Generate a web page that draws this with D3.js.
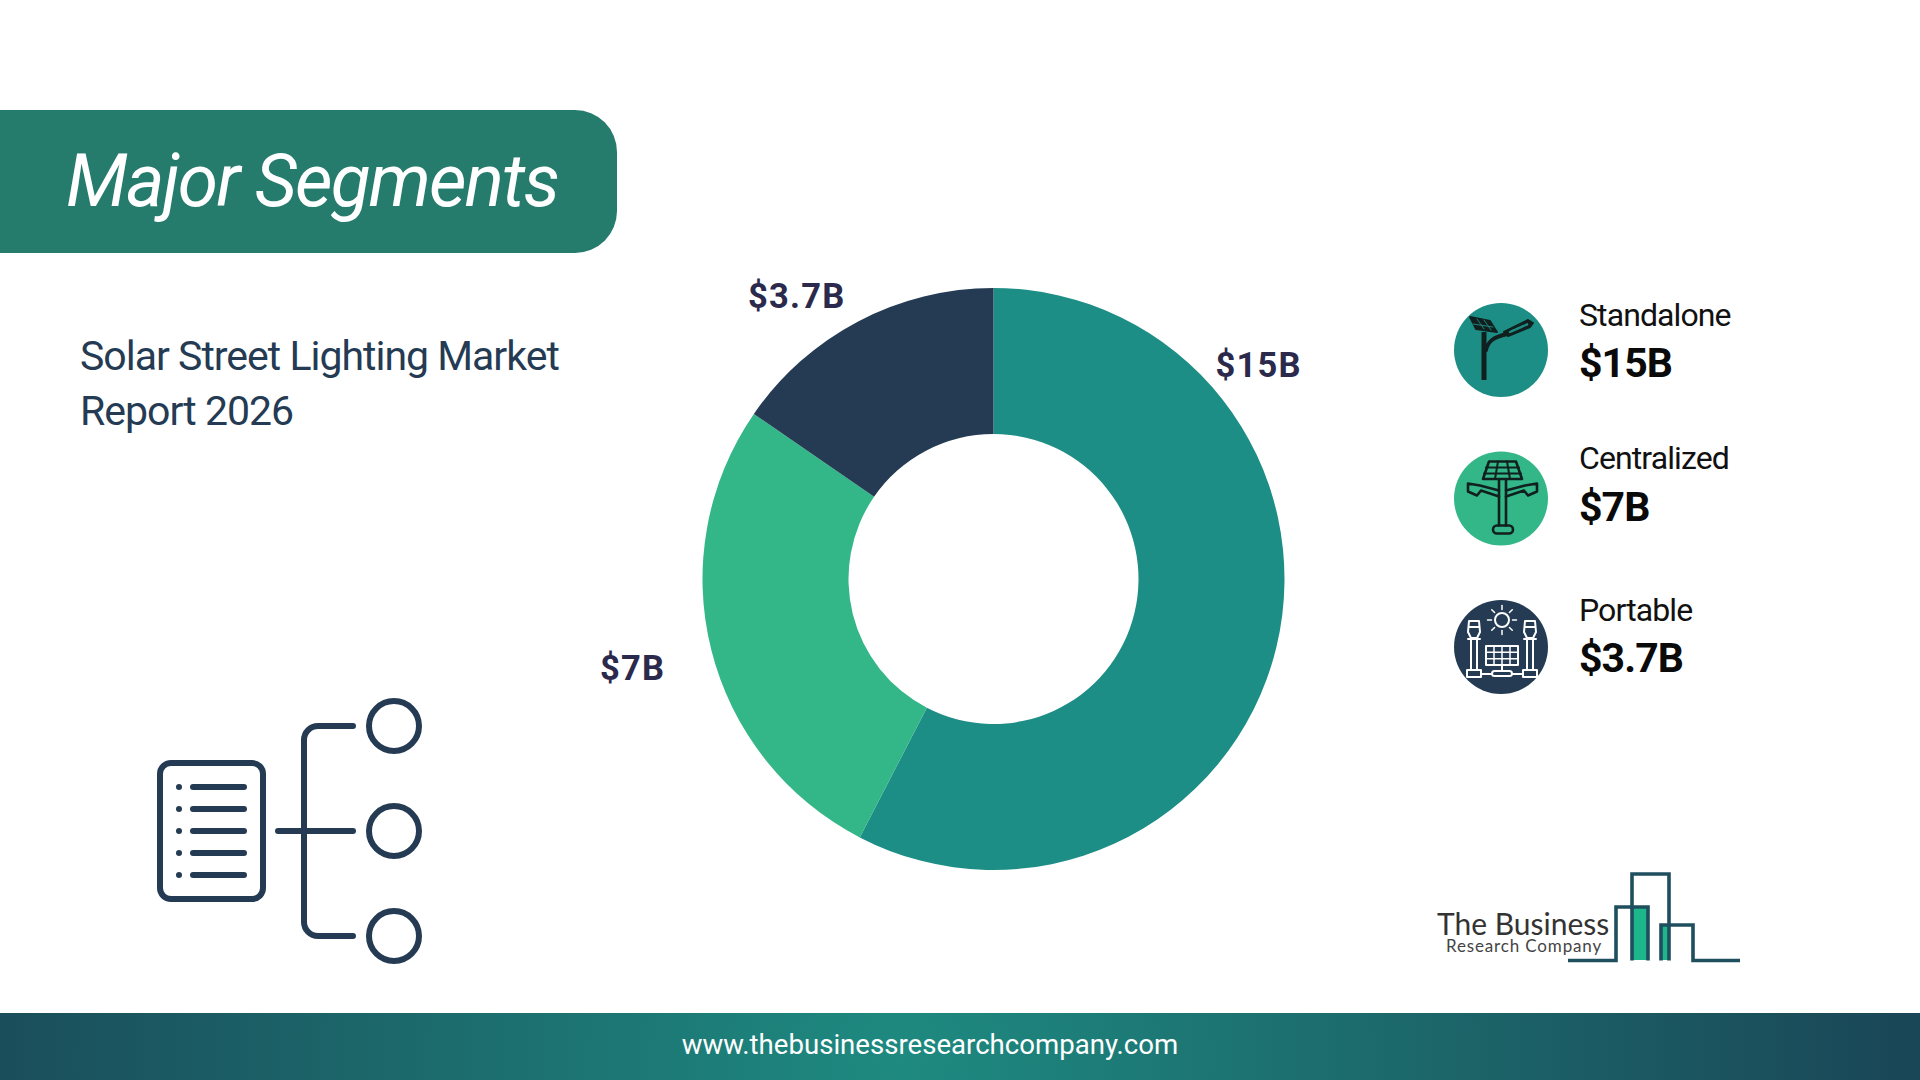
<!DOCTYPE html>
<html>
<head>
<meta charset="utf-8">
<script src="https://cdn.jsdelivr.net/npm/d3@7"></script>
<style>
html, body { margin: 0; padding: 0; background: #fff; }
svg { display: block; }
text { font-family: Roboto, sans-serif; }
</style>
</head>
<body>
<script>
var segments = ["Standalone", "Centralized", "Portable"];
var valueLabels = ["$15B", "$7B", "$3.7B"];
var sliceShares = [57.6, 27.0, 15.4];
var colors = ["#1d8e85", "#34b788", "#243b53"];

var title = "Major Segments";
var subtitleLines = ["Solar Street Lighting Market", "Report 2026"];
var siteUrl = "www.thebusinessresearchcompany.com";

var navy = "#243b53";
var cx = 993.5, cy = 579;
var outerR = 291, innerR = 145;

var svg = d3.select("body").append("svg")
    .attr("width", 1920)
    .attr("height", 1080);

var defs = svg.append("defs");
var footerGrad = defs.append("radialGradient")
    .attr("id", "footerGrad")
    .attr("gradientUnits", "userSpaceOnUse")
    .attr("cx", 900).attr("cy", 1060).attr("r", 1000);
footerGrad.append("stop").attr("offset", "0%").attr("stop-color", "#1e8a80");
footerGrad.append("stop").attr("offset", "100%").attr("stop-color", "#1a4757");

// header pill, square on the left side
svg.append("path")
    .attr("d", "M0,110H575A42,42 0 0 1 617,152V211A42,42 0 0 1 575,253H0Z")
    .attr("fill", "#257b6c");
svg.append("text")
    .attr("x", 66).attr("y", 206)
    .attr("fill", "#fff")
    .style("font-size", "73px")
    .style("font-style", "italic")
    .style("font-weight", 400)
    .style("letter-spacing", "-1.8px")
    .text(title);

svg.selectAll(".subtitle")
    .data(subtitleLines)
    .enter().append("text")
    .attr("class", "subtitle")
    .attr("x", 80)
    .attr("y", function(d, i) { return 370 + i * 55; })
    .attr("fill", navy)
    .style("font-size", "41px")
    .style("letter-spacing", "-1px")
    .text(function(d) { return d; });

// donut
var pie = d3.pie().sort(null);
var arc = d3.arc().innerRadius(innerR).outerRadius(outerR);
var ring = svg.append("g").attr("transform", "translate(" + cx + "," + cy + ")");
ring.selectAll("path")
    .data(pie(sliceShares))
    .enter().append("path")
    .attr("d", arc)
    .attr("fill", function(d, i) { return colors[i]; });

// label spots, offset from the ring centre
var labelSpots = [[222, -202], [-393.5, 101], [-245.5, -271]];
ring.selectAll(".slice-label")
    .data(valueLabels)
    .enter().append("text")
    .attr("class", "slice-label")
    .attr("x", function(d, i) { return labelSpots[i][0]; })
    .attr("y", function(d, i) { return labelSpots[i][1]; })
    .attr("fill", "#2b2a4c")
    .style("font-size", "34.5px")
    .style("font-weight", 700)
    .style("letter-spacing", "1.2px")
    .text(function(d) { return d; });

// legend column
var rowY = [350, 498.5, 647];
var nameY = [326, 469, 621];
var valueY = [377, 521, 672];
var rows = svg.selectAll(".row")
    .data(segments)
    .enter().append("g")
    .attr("class", "row");
rows.append("circle")
    .attr("cx", 1501)
    .attr("cy", function(d, i) { return rowY[i]; })
    .attr("r", 47)
    .attr("fill", function(d, i) { return colors[i]; });
rows.append("text")
    .attr("x", 1579)
    .attr("y", function(d, i) { return nameY[i]; })
    .attr("fill", "#111")
    .style("font-size", "32px")
    .style("letter-spacing", "-0.9px")
    .text(function(d) { return d; });
rows.append("text")
    .attr("x", 1579)
    .attr("y", function(d, i) { return valueY[i]; })
    .attr("fill", "#0a0a0a")
    .style("font-size", "41px")
    .style("font-weight", 700)
    .style("letter-spacing", "-0.9px")
    .text(function(d, i) { return valueLabels[i]; });

function iconAt(i) {
    return svg.append("g")
        .attr("transform", "translate(1501," + rowY[i] + ")")
        .attr("fill", "none")
        .attr("stroke-linejoin", "round")
        .attr("stroke-linecap", "round");
}

// standalone lamp
var ic1 = iconAt(0).attr("stroke", "#10201f");
ic1.append("path").attr("d", "M-17,30V-18").attr("stroke-width", 5).attr("stroke-linecap", "butt");
ic1.append("path").attr("d", "M-15,0C-13,-9 -7,-13 6,-16").attr("stroke-width", 4);
ic1.append("path").attr("d", "M-31,-33L-11,-29L-4,-18L-25,-21Z").attr("fill", "#10201f").attr("stroke-width", 1.8);
ic1.append("path").attr("d", "M-24,-31L-17,-21M-17,-30L-10,-20M-28,-26L-8,-23")
    .attr("stroke", "#1d8e85").attr("stroke-width", 0.9);
ic1.append("path").attr("d", "M3,-18L27,-30L32,-27L29,-23L7,-14Z").attr("fill", "#10201f").attr("stroke-width", 2);
ic1.append("path").attr("d", "M9,-18L27,-26").attr("stroke", "#1d8e85").attr("stroke-width", 2.4).attr("stroke-dasharray", "1.2 1");

// centralized lamp
var ic2 = iconAt(1).attr("stroke", "#10201f").attr("stroke-width", 2.6);
ic2.append("path").attr("d", "M-12,-37H15L21,-19.5H-18Z");
ic2.append("path").attr("d", "M-15,-31H18M-17,-25H20M-3,-37L-6,-19.5M6,-37L9,-19.5").attr("stroke-width", 2);
ic2.append("path").attr("d", "M-2,-19V27M5,-19V27");
ic2.append("rect").attr("x", -8).attr("y", 27).attr("width", 20).attr("height", 8).attr("rx", 4);
ic2.append("path").attr("d", "M-2,-8L-21,-13L-33,-15V-7L-24,-3L-20,-8L-2,-2");
ic2.append("path").attr("d", "M5,-8L24,-13L36,-15V-7L27,-3L23,-8L5,-2");

// portable lamps and panel
var ic3 = iconAt(2).attr("stroke", "#fff").attr("stroke-width", 2);
ic3.append("circle").attr("cx", 1).attr("cy", -27).attr("r", 7);
d3.range(8).forEach(function(k) {
    var a = k * Math.PI / 4;
    var p0 = d3.pointRadial(a, 10.5), p1 = d3.pointRadial(a, 14.5);
    ic3.append("line")
        .attr("x1", 1 + p0[0]).attr("y1", -27 + p0[1])
        .attr("x2", 1 + p1[0]).attr("y2", -27 + p1[1])
        .attr("stroke-width", 1.5);
});
[-27, 29].forEach(function(x) {
    ic3.append("path").attr("d", "M" + (x - 5) + ",-26H" + (x + 5) + "L" + (x + 6) + ",-15L" + (x + 3) + ",-9H" + (x - 3) + "L" + (x - 6) + ",-15Z");
    ic3.append("path").attr("d", "M" + (x - 6) + ",-8H" + (x + 6) + "M" + (x - 5) + ",-20H" + (x + 5));
    ic3.append("path").attr("d", "M" + (x - 3) + ",-7V23M" + (x + 3) + ",-7V23");
    ic3.append("rect").attr("x", x - 7).attr("y", 23).attr("width", 14).attr("height", 7);
});
ic3.append("rect").attr("x", -15).attr("y", -1).attr("width", 32).attr("height", 19);
ic3.append("path").attr("d", "M-7,-1V18M1,-1V18M9,-1V18M-15,5.3H17M-15,11.7H17").attr("stroke-width", 1.5);
ic3.append("path").attr("d", "M1,18V24");
ic3.append("rect").attr("x", -9).attr("y", 24).attr("width", 20).attr("height", 5).attr("rx", 2.5);
ic3.append("path").attr("d", "M-20,27H-9M11,27H22");

// list-and-branches icon, bottom left
var tree = svg.append("g")
    .attr("fill", "none")
    .attr("stroke", navy)
    .attr("stroke-width", 6)
    .attr("stroke-linecap", "round");
tree.append("rect").attr("x", 160).attr("y", 763).attr("width", 103).attr("height", 136).attr("rx", 11);
[787, 809, 831, 853, 875].forEach(function(y) {
    tree.append("circle").attr("cx", 179).attr("cy", y).attr("r", 3).attr("fill", navy).attr("stroke", "none");
    tree.append("line").attr("x1", 193).attr("x2", 244).attr("y1", y).attr("y2", y);
});
tree.append("path").attr("d", "M353,726H318A14,14 0 0 0 304,740V922A14,14 0 0 0 318,936H353");
tree.append("path").attr("d", "M278,831H353");
[726, 831, 936].forEach(function(y) {
    tree.append("circle").attr("cx", 394).attr("cy", y).attr("r", 25);
});

// logo, bottom right
var logo = svg.append("g");
logo.append("rect").attr("x", 1632).attr("y", 907).attr("width", 16).attr("height", 53).attr("fill", "#1db58a");
logo.append("rect").attr("x", 1661).attr("y", 925).attr("width", 8).attr("height", 35).attr("fill", "#1db58a");
logo.append("path")
    .attr("d", "M1568,960.5H1616V907H1648V960.5M1632,960.5V874H1669V960.5M1661,960.5V925H1693V960.5H1740")
    .attr("fill", "none")
    .attr("stroke", "#1f4f5f")
    .attr("stroke-width", 3.6);
logo.append("text")
    .attr("x", 1437).attr("y", 935)
    .attr("fill", "#333")
    .style("font-family", "Lato, sans-serif")
    .style("font-size", "30px")
    .text("The Business");
logo.append("text")
    .attr("x", 1446).attr("y", 952)
    .attr("fill", "#444")
    .style("font-family", "Lato, sans-serif")
    .style("font-size", "17px")
    .style("letter-spacing", "0.85px")
    .text("Research Company");

// footer band
svg.append("rect")
    .attr("x", 0).attr("y", 1013)
    .attr("width", 1920).attr("height", 67)
    .attr("fill", "url(#footerGrad)");
svg.append("text")
    .attr("x", 930).attr("y", 1054)
    .attr("text-anchor", "middle")
    .attr("fill", "#fff")
    .style("font-size", "27.6px")
    .text(siteUrl);
</script>
</body>
</html>
